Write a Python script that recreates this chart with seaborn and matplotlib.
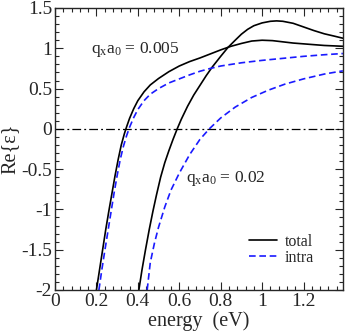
import matplotlib
matplotlib.use("Agg")
import matplotlib.pyplot as plt
import seaborn as sns
import pandas as pd
from matplotlib.ticker import MultipleLocator

# total, q_x a_0 = 0.005
e_tot1 = [0.200, 0.215, 0.230, 0.245, 0.260, 0.275, 0.290, 0.305, 0.320, 0.335, 0.345, 0.36, 0.38, 0.40, 0.43, 0.46, 0.50, 0.55, 0.60, 0.65, 0.70, 0.75, 0.80, 0.85, 0.90, 0.95, 1.00, 1.05, 1.10, 1.15, 1.20, 1.25, 1.30, 1.39]
v_tot1 = [-2.0, -1.75, -1.50, -1.25, -1.02, -0.80, -0.58, -0.38, -0.20, -0.06, 0.02, 0.13, 0.25, 0.35, 0.46, 0.545, 0.625, 0.71, 0.78, 0.835, 0.88, 0.93, 0.98, 1.025, 1.06, 1.09, 1.10, 1.095, 1.08, 1.065, 1.055, 1.045, 1.035, 1.025]
# total, q_x a_0 = 0.02
e_tot2 = [0.405, 0.42, 0.437, 0.455, 0.473, 0.49, 0.51, 0.53, 0.55, 0.57, 0.59, 0.61, 0.64, 0.67, 0.70, 0.73, 0.76, 0.80, 0.835, 0.87, 0.90, 0.93, 0.96, 1.00, 1.04, 1.07, 1.10, 1.15, 1.20, 1.25, 1.30, 1.35, 1.39]
v_tot2 = [-2.0, -1.75, -1.5, -1.25, -1.02, -0.82, -0.6, -0.42, -0.27, -0.13, 0.0, 0.12, 0.28, 0.42, 0.54, 0.66, 0.77, 0.90, 1.01, 1.10, 1.175, 1.235, 1.28, 1.315, 1.335, 1.34, 1.335, 1.31, 1.265, 1.22, 1.18, 1.15, 1.125]
# intra, q_x a_0 = 0.005
e_int1 = [0.212, 0.226, 0.24, 0.255, 0.27, 0.285, 0.30, 0.315, 0.33, 0.345, 0.36, 0.38, 0.40, 0.43, 0.46, 0.50, 0.55, 0.60, 0.65, 0.70, 0.75, 0.80, 0.85, 0.90, 0.95, 1.00, 1.10, 1.20, 1.30, 1.39]
v_int1 = [-2.0, -1.75, -1.52, -1.28, -1.04, -0.80, -0.58, -0.38, -0.22, -0.09, 0.02, 0.14, 0.24, 0.35, 0.43, 0.50, 0.57, 0.62, 0.67, 0.715, 0.75, 0.78, 0.80, 0.82, 0.835, 0.85, 0.875, 0.90, 0.92, 0.935]
# intra, q_x a_0 = 0.02
e_int2 = [0.445, 0.46, 0.48, 0.50, 0.53, 0.56, 0.60, 0.65, 0.70, 0.745, 0.80, 0.87, 0.95, 1.03, 1.11, 1.20, 1.30, 1.39]
v_int2 = [-2.0, -1.66, -1.42, -1.22, -0.97, -0.76, -0.55, -0.32, -0.13, 0.0, 0.135, 0.27, 0.39, 0.48, 0.555, 0.62, 0.68, 0.72]

x_ticks = [0, 0.2, 0.4, 0.6, 0.8, 1.0, 1.2]
x_tick_labels = ["0", "0.2", "0.4", "0.6", "0.8", "1", "1.2"]
y_ticks = [-2, -1.5, -1, -0.5, 0, 0.5, 1, 1.5]
y_tick_labels = ["-2", "-1.5", "-1", "-0.5", "0", "0.5", "1", "1.5"]

sns.set_style("ticks")
plt.rcParams['font.family'] = ['Liberation Serif', 'DejaVu Serif']
plt.rcParams['mathtext.fontset'] = 'custom'
plt.rcParams['mathtext.rm'] = 'Liberation Serif'
plt.rcParams['mathtext.it'] = 'Liberation Serif'

fig = plt.figure(figsize=(3.45, 3.35), dpi=100)
ax = fig.add_axes([55/345, 1-290/335, (343.3-55)/345, (290-8)/335])

ax.axhline(0, color="black", lw=0.9, ls=(0, (7, 2.5, 1.5, 2.5)), zorder=1)

df1 = pd.DataFrame({"e": e_tot1, "v": v_tot1})
df2 = pd.DataFrame({"e": e_tot2, "v": v_tot2})
df3 = pd.DataFrame({"e": e_int1, "v": v_int1})
df4 = pd.DataFrame({"e": e_int2, "v": v_int2})

blue = "#1a1aff"
dash = (0, (4, 2.2))
sns.lineplot(data=df1, x="e", y="v", ax=ax, color="black", lw=1.2, sort=False, label="total")
sns.lineplot(data=df2, x="e", y="v", ax=ax, color="black", lw=1.2, sort=False)
sns.lineplot(data=df3, x="e", y="v", ax=ax, color=blue, lw=1.2, ls=dash, sort=False, label="intra")
sns.lineplot(data=df4, x="e", y="v", ax=ax, color=blue, lw=1.2, ls=dash, sort=False)

ax.set_xlim(0, 1.392)
ax.set_ylim(-2, 1.5)
ax.set_xticks(x_ticks)
ax.set_xticklabels(x_tick_labels)
ax.set_yticks(y_ticks)
ax.set_yticklabels(y_tick_labels)
ax.xaxis.set_minor_locator(MultipleLocator(0.04))
ax.yaxis.set_minor_locator(MultipleLocator(0.1))
ax.tick_params(which="both", direction="in", top=True, right=True, labelsize=14, width=0.8)
ax.tick_params(which="major", length=6, pad=2)
ax.tick_params(which="minor", length=3)
for s in ax.spines.values():
    s.set_linewidth(1.0)
    s.set_visible(True)

ax.set_xlabel("energy  (eV)", fontsize=14.5, labelpad=1)
ax.set_ylabel("Re{ε}", fontsize=14.5, labelpad=1)

ax.text(0.175, 0.99, r"q$_\mathrm{x}$a$_\mathrm{0}$ = 0.005", fontsize=12.5, va="center", ha="left")
ax.text(0.632, -0.61, r"q$_\mathrm{x}$a$_\mathrm{0}$ = 0.02", fontsize=12.5, va="center", ha="left")

leg = ax.legend(loc="lower right", bbox_to_anchor=(0.921, 0.063), frameon=False, fontsize=11.5,
                handlelength=1.75, handletextpad=0.5, labelspacing=0.0, borderaxespad=0)

fig.savefig("out.png", dpi=100)
